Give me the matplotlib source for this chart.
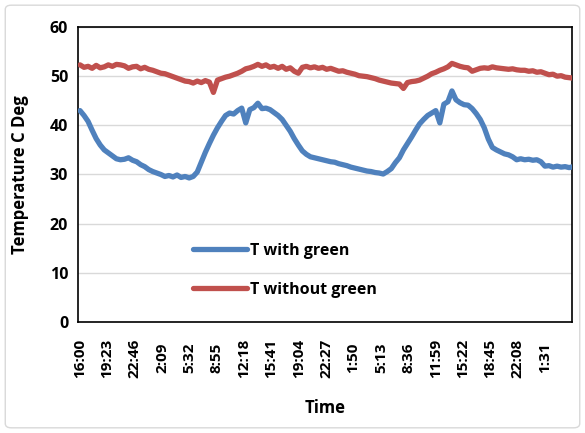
import matplotlib
matplotlib.use("Agg")
import matplotlib.pyplot as plt
from matplotlib.patches import FancyBboxPatch

# hours since 16:00, sampled every half hour
hours = [i * 0.5 for i in range(123)]

t_with_green = [
    43.0, 42.0, 40.8, 39.0, 37.3, 36.0, 35.0, 34.4, 33.8, 33.2,
    33.0, 33.1, 33.4, 32.9, 32.6, 32.0, 31.6, 31.0, 30.6, 30.3,
    30.0, 29.6, 29.8, 29.5, 29.9, 29.4, 29.6, 29.3, 29.6, 30.5,
    32.5, 34.5, 36.3, 38.0, 39.5, 40.8, 42.0, 42.5, 42.3, 43.0,
    43.5, 40.5, 43.2, 43.6, 44.5, 43.4, 43.5, 43.2, 42.6, 42.0,
    41.2, 40.0, 38.8, 37.3, 36.0, 34.8, 34.1, 33.6, 33.4, 33.2,
    33.0, 32.8, 32.6, 32.5, 32.2, 32.0, 31.8, 31.5, 31.3, 31.1,
    30.9, 30.7, 30.6, 30.4, 30.3, 30.1, 30.6, 31.2, 32.4, 33.4,
    35.0, 36.3, 37.6, 39.0, 40.3, 41.2, 42.0, 42.5, 43.0, 40.5,
    44.3, 44.8, 47.0, 45.2, 44.6, 44.2, 44.1, 43.4, 42.4, 41.2,
    39.5, 37.2, 35.5, 35.0, 34.6, 34.2, 34.0, 33.6, 33.0, 33.2,
    33.0, 33.1, 32.9, 33.0, 32.6, 31.7, 31.8, 31.5, 31.7, 31.5,
    31.6, 31.4, 31.6,
]

t_without_green = [
    52.3, 51.8, 52.0, 51.6, 52.2, 51.7, 51.9, 52.3, 52.0, 52.4,
    52.3, 52.1, 51.6, 51.9, 52.0, 51.5, 51.8, 51.4, 51.2, 50.9,
    50.6, 50.5, 50.2, 49.9, 49.6, 49.3, 49.0, 48.9, 48.6, 49.0,
    48.7, 49.1, 48.8, 46.7, 49.2, 49.5, 49.8, 50.0, 50.3, 50.6,
    51.0, 51.5, 51.7, 52.0, 52.4, 52.0, 52.3, 51.8, 52.0, 51.6,
    52.0, 51.4, 51.7, 51.0, 50.6, 51.8, 52.0, 51.7, 51.9, 51.6,
    51.8, 51.4, 51.6, 51.3, 51.0, 51.1, 50.8, 50.6, 50.4, 50.1,
    50.0, 49.9, 49.7, 49.5, 49.2, 49.0, 48.8, 48.6, 48.5, 48.4,
    47.5, 48.7, 48.9, 49.0, 49.2, 49.6, 50.0, 50.5, 50.8, 51.2,
    51.5, 51.9, 52.6, 52.3, 52.0, 51.8, 51.7, 51.0, 51.3, 51.6,
    51.7, 51.6, 51.9, 51.7, 51.6, 51.5, 51.4, 51.5, 51.3, 51.2,
    51.2, 51.0, 51.1, 50.8, 50.9, 50.6, 50.3, 50.4, 50.0, 50.1,
    49.8, 49.7, 49.6,
]

time_labels = ["16:00", "19:23", "22:46", "2:09", "5:32", "8:55", "12:18",
               "15:41", "19:04", "22:27", "1:50", "5:13", "8:36", "11:59",
               "15:22", "18:45", "22:08", "1:31"]
label_step_h = 203 / 60

FONT = ["Open Sans", "DejaVu Sans"]


def main():
    plt.rcParams["font.family"] = FONT
    plt.rcParams["font.weight"] = "bold"

    fig = plt.figure(figsize=(5.85, 4.33), dpi=100)
    fig.patches.append(FancyBboxPatch(
        (0.009, 0.012), 0.982, 0.976, boxstyle="round,pad=0,rounding_size=0.01",
        transform=fig.transFigure, facecolor="none", edgecolor="#D9D9D9",
        linewidth=1.0))
    ax = fig.add_axes([0.1333, 0.2564, 0.8445, 0.6812])

    ax.plot(hours, t_with_green, color="#4F81BD", lw=3.8,
            solid_capstyle="round", label="T with green", zorder=3)
    ax.plot(hours, t_without_green, color="#C0504D", lw=3.8,
            solid_capstyle="round", label="T without green", zorder=3)

    ax.set_ylim(0, 60)
    ax.set_yticks(range(0, 61, 10))
    ax.set_xlim(-0.25, 60.85)
    ax.set_xticks([i * label_step_h for i in range(len(time_labels))])
    ax.set_xticklabels(time_labels, rotation=90, va="center", ha="center")
    ax.tick_params(axis="x", length=0, pad=26, labelsize=11)
    ax.tick_params(axis="y", length=0, pad=7, labelsize=11.5)

    ax.grid(axis="y", color="#D9D9D9", lw=1.0, zorder=0)
    ax.set_axisbelow(True)
    for sp in ax.spines.values():
        sp.set_color("#000000")
        sp.set_linewidth(1.2)

    ax.set_xlabel("Time", fontsize=12, fontweight="bold")
    ax.xaxis.set_label_coords(0.5, -0.262)
    ax.set_ylabel("Temperature C Deg", fontsize=12, fontweight="bold")
    ax.yaxis.set_label_coords(-0.099, 0.5)

    leg = ax.legend(loc="center left", bbox_to_anchor=(0.232, 0.175),
                    frameon=False, fontsize=11.5, handlelength=3.4,
                    handletextpad=0.2, labelspacing=1.45, borderpad=0,
                    borderaxespad=0)
    for line in leg.get_lines():
        line.set_linewidth(3.8)

    fig.savefig("out.png", dpi=100)


if __name__ == "__main__":
    main()
